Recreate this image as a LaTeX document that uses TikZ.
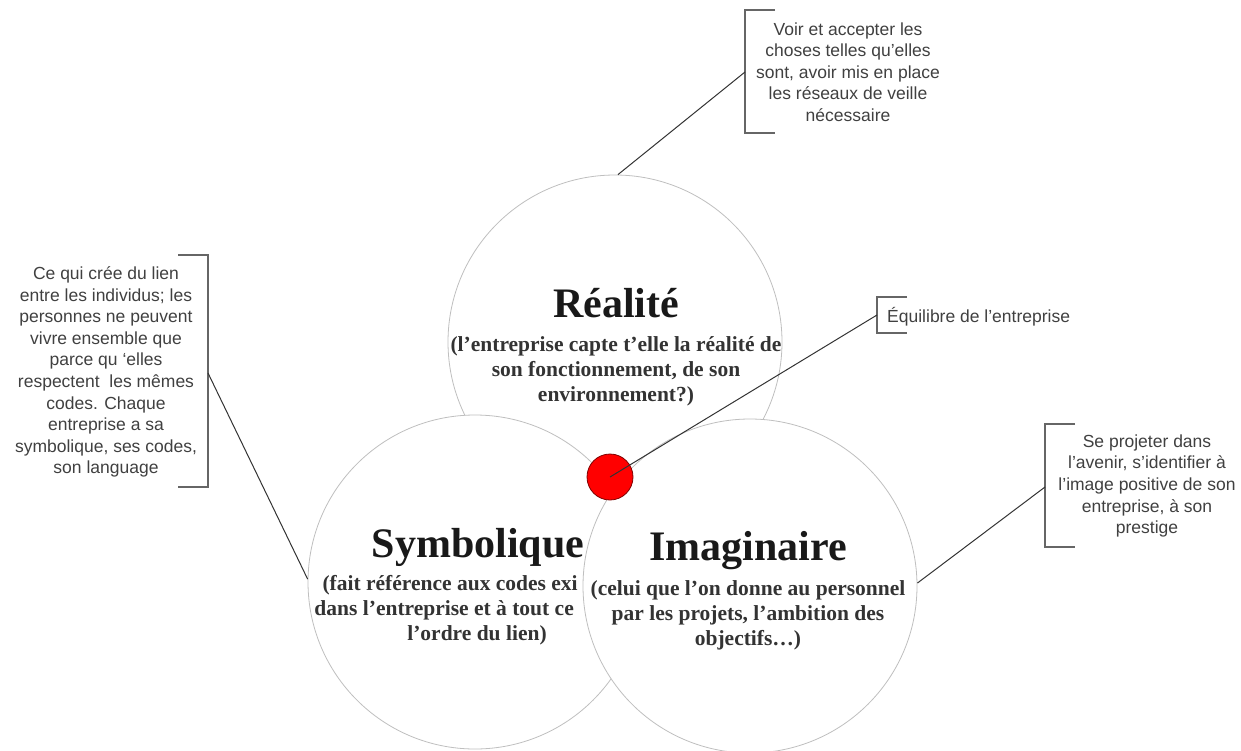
\documentclass[tikz,border=0pt]{standalone}
\usepackage{fontspec}
\setmainfont{Liberation Serif}
\newfontfamily\notefont{Liberation Sans}

\begin{document}
\begin{tikzpicture}[x=1pt,y=-1pt]
	\tikzset{
		rond/.style={circle,draw=black!25,line width=.8pt,fill=white,minimum size=334pt,inner sep=0pt},
		titre/.style={anchor=base,inner sep=0pt,font=\fontsize{42}{46}\selectfont\bfseries,text=black!90},
		sous/.style={inner sep=0pt,align=center,font=\fontsize{21.5}{25}\selectfont\bfseries,text=black!80},
		note/.style={inner sep=0pt,align=center,font=\notefont\fontsize{17.5}{21.6}\selectfont,text=black!75},
		crochet/.style={draw=black!60,line width=1.2pt},
		lien/.style={draw=black!80,line width=1pt}
	}
	\useasboundingbox (0,0) rectangle (1241,750);
	\path
	(615,342) node[rond](R){}
	(616,317) node[titre](Rtitre){Réalité}
	(616,371) node[sous](Rsous){(l’entreprise capte t’elle la réalité de\\son fonctionnement, de son\\environnement?)}
	(475,582) node[rond](S){}
	(478,557) node[titre](Stitre){Symbolique}
	(477,610) node[sous](Ssous){(fait référence aux codes exi\phantom{stants}\\dans l’entreprise et à tout ce\phantom{ qui est}\\l’ordre du lien)}
	(750,586) node[rond](I){}
	(748,560) node[titre](Ititre){Imaginaire}
	(748,615) node[sous](Isous){(celui que l’on donne au personnel\\par les projets, l’ambition des\\objectifs…)}
	(610,477) node[circle,fill=red,draw=red!50!black,line width=.8pt,minimum size=46pt,inner sep=0pt](eq){}
	;
	\coordinate (cR) at (745,72);
	\coordinate (cE) at (877,315);
	\coordinate (cS) at (208,373);
	\coordinate (cI) at (1045,487);
	\draw[crochet] (775,10) -| (745,133) -- (775,133);
	\draw[crochet] (907,297) -| (877,333) -- (907,333);
	\draw[crochet] (178,255) -| (208,487) -- (178,487);
	\draw[crochet] (1075,424) -| (1045,547) -- (1075,547);
	\draw[lien] (R.89) -- (cR);
	\draw[lien] (eq.center) -- (cE);
	\draw[lien] (S.179) -- (cS);
	\draw[lien] (I.1) -- (cI);
	\path
	(848,72) node[note](nR){Voir et accepter les\\choses telles qu’elles\\sont, avoir mis en place\\les réseaux de veille\\nécessaire}
	(887,317) node[note,anchor=west](nE){Équilibre de l’entreprise}
	(106,372) node[note](nS){Ce qui crée du lien\\entre les individus; les\\personnes ne peuvent\\vivre ensemble que\\parce qu ‘elles\\respectent~ les mêmes\\codes. Chaque\\entreprise a sa\\symbolique, ses codes,\\son language}
	(1147,486) node[note](nI){Se projeter dans\\l’avenir, s’identifier à\\l’image positive de son\\entreprise, à son\\prestige}
	;
\end{tikzpicture}
\end{document}
